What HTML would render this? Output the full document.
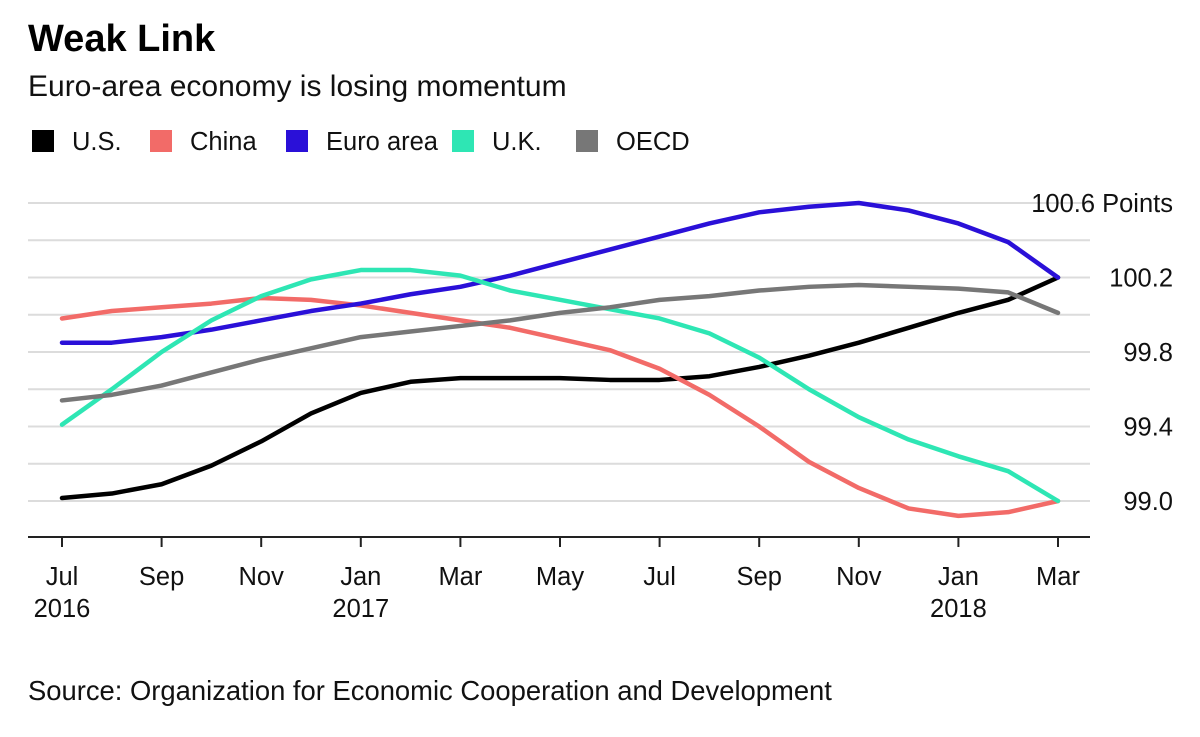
<!DOCTYPE html>
<html><head><meta charset="utf-8"><style>
body{margin:0;background:#fff;font-family:"Liberation Sans",sans-serif;}
svg text{font-family:"Liberation Sans",sans-serif;}
</style></head><body>
<svg id="c" width="1200" height="732">
<text x="28" y="51" font-size="38" font-weight="bold" fill="#000">Weak Link</text>
<text x="28" y="96" font-size="30" fill="#111">Euro-area economy is losing momentum</text>
<g id="legend"></g>
<g id="grid"></g>
<g id="series"></g>
<g id="xaxis"></g>
<text x="28" y="700" font-size="27.4" fill="#111">Source: Organization for Economic Cooperation and Development</text>
</svg>
<script>
const months=["Jul","Aug","Sep","Oct","Nov","Dec","Jan","Feb","Mar","Apr","May","Jun","Jul","Aug","Sep","Oct","Nov","Dec","Jan","Feb","Mar"];
const yTicks=[99.0,99.4,99.8,100.2,100.6];
const seriesNames=["U.S.","China","Euro area","U.K.","OECD"];
const us=[99.016,99.04,99.09,99.19,99.32,99.47,99.58,99.64,99.66,99.66,99.66,99.65,99.65,99.67,99.72,99.78,99.85,99.93,100.01,100.08,100.2];
const china=[99.98,100.02,100.04,100.06,100.09,100.08,100.05,100.01,99.97,99.93,99.87,99.81,99.71,99.57,99.4,99.21,99.07,98.96,98.92,98.94,99.0];
const euro=[99.85,99.85,99.88,99.92,99.97,100.02,100.06,100.11,100.15,100.21,100.28,100.35,100.42,100.49,100.55,100.58,100.6,100.56,100.49,100.39,100.2];
const uk=[99.41,99.6,99.8,99.97,100.1,100.19,100.24,100.24,100.21,100.13,100.08,100.03,99.98,99.9,99.77,99.6,99.45,99.33,99.24,99.16,99.0];
const oecd=[99.54,99.57,99.62,99.69,99.76,99.82,99.88,99.91,99.94,99.97,100.01,100.04,100.08,100.1,100.13,100.15,100.16,100.15,100.14,100.12,100.01];
const xTickIdx=[0,2,4,6,8,10,12,14,16,18,20];
const xTickLabels=["Jul","Sep","Nov","Jan","Mar","May","Jul","Sep","Nov","Jan","Mar"];
const yearLabels=[[0,"2016"],[6,"2017"],[18,"2018"]];
const colors=["#000000","#f26b68","#2a10d8","#2ee6b4","#777777"];
const data=[us,china,euro,uk,oecd];
const NS="http://www.w3.org/2000/svg";
const X=i=>62+i*(1058-62)/20;
const Y=v=>501-(v-99.0)*186.25;
function mk(t,a,p){const e=document.createElementNS(NS,t);for(const k in a)e.setAttribute(k,a[k]);p.appendChild(e);return e;}
const grid=document.getElementById('grid');
for(let k=0;k<=8;k++){
 const v=99.0+k*0.2;
 const l=mk('line',{x1:28,x2:1090,y1:Y(v),y2:Y(v),stroke:'#dcdcdc','stroke-width':2},grid);
 
 
}
yTicks.forEach(v=>{
 const t=mk('text',{x:1173,y:Y(v)+9,'font-size':25.5,'text-anchor':'end',fill:'#111'},grid);
 t.textContent=v.toFixed(1)+(Math.abs(v-100.6)<1e-6?" Points":"");
 
 
});
const xa=document.getElementById('xaxis');
const ax=mk('line',{x1:28,x2:1090,y1:537,y2:537,stroke:'#222','stroke-width':2},xa);


xTickIdx.forEach((i,k)=>{
 const tk=mk('line',{x1:X(i),x2:X(i),y1:537,y2:547,stroke:'#222','stroke-width':2},xa);
 
 
 const t=mk('text',{x:X(i),y:585,'font-size':25.5,'text-anchor':'middle',fill:'#111'},xa);
 t.textContent=xTickLabels[k];
 
 
});
yearLabels.forEach(([i,s])=>{
 const t=mk('text',{x:X(i),y:617,'font-size':25.5,'text-anchor':'middle',fill:'#111'},xa);
 t.textContent=s;
 
 
});
const sg=document.getElementById('series');
data.forEach((d,s)=>{
 const p=mk('polyline',{points:d.map((v,i)=>X(i)+","+Y(v)).join(" "),fill:'none',stroke:colors[s],'stroke-width':4.5,'stroke-linejoin':'round','stroke-linecap':'round'},sg);
 
 
});
const lg=document.getElementById('legend');
const lx=[32,150,286,452,576];
seriesNames.forEach((n,s)=>{
 const r=mk('rect',{x:lx[s],y:130,width:22,height:22,fill:colors[s]},lg);
 
 
 const t=mk('text',{x:lx[s]+40,y:150,'font-size':25.5,fill:'#111'},lg);
 t.textContent=n;
 
 
});
</script>
</body></html>
